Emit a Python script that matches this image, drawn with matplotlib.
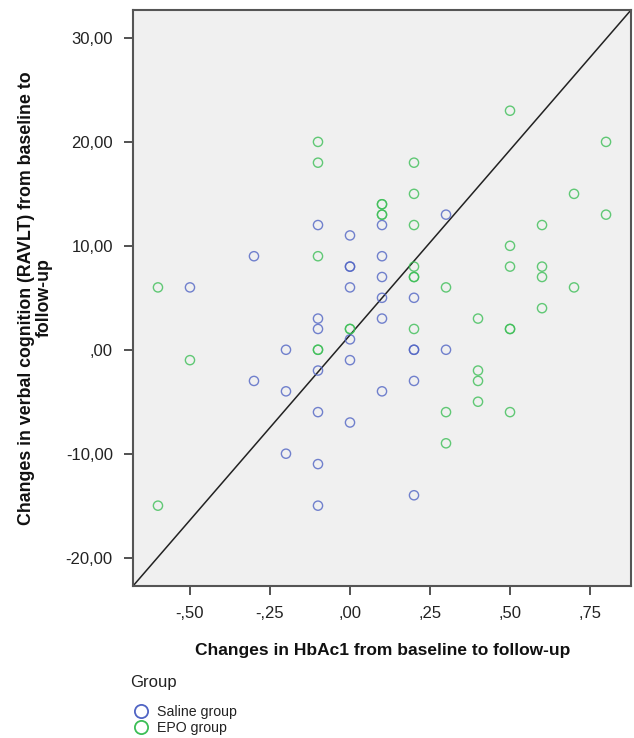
import matplotlib
matplotlib.use("Agg")
import matplotlib.pyplot as plt
from matplotlib.lines import Line2D

plt.rcParams['font.family'] = ['Liberation Sans', 'DejaVu Sans']

# Saline group: change in HbA1c (x) vs change in RAVLT (y)
saline_x = [-0.5, -0.3, -0.3, -0.2, -0.2, -0.2,
            -0.1, -0.1, -0.1, -0.1, -0.1, -0.1, -0.1,
            0.0, 0.0, 0.0, 0.0, 0.0, 0.0, 0.0,
            0.1, 0.1, 0.1, 0.1, 0.1, 0.1,
            0.2, 0.2, 0.2, 0.2, 0.2,
            0.3, 0.3]
saline_y = [6, 9, -3, 0, -4, -10,
            12, 3, 2, -2, -6, -11, -15,
            11, 8, 8, 6, 1, -1, -7,
            12, 9, 7, 5, 3, -4,
            5, 0, 0, -3, -14,
            13, 0]

# EPO group
epo_x = [-0.6, -0.6, -0.5,
         -0.1, -0.1, -0.1, -0.1, -0.1,
         0.0, 0.0,
         0.1, 0.1, 0.1, 0.1,
         0.2, 0.2, 0.2, 0.2, 0.2, 0.2, 0.2,
         0.3, 0.3, 0.3,
         0.4, 0.4, 0.4, 0.4,
         0.5, 0.5, 0.5, 0.5, 0.5, 0.5,
         0.6, 0.6, 0.6, 0.6,
         0.7, 0.7,
         0.8, 0.8]
epo_y = [6, -15, -1,
         20, 18, 9, 0, 0,
         2, 2,
         14, 14, 13, 13,
         18, 15, 12, 8, 7, 7, 2,
         6, -6, -9,
         3, -2, -3, -5,
         23, 10, 8, 2, 2, -6,
         12, 8, 7, 4,
         15, 6,
         20, 13]

x_ticks = [-0.5, -0.25, 0.0, 0.25, 0.5, 0.75]
y_ticks = [30, 20, 10, 0, -10, -20]

blue = '#5064c4'
green = '#3cbe56'


def spss_fmt(v):
    s = "%.2f" % v
    if s.startswith("0."):
        s = s[1:]
    elif s.startswith("-0."):
        s = "-" + s[2:]
    return s.replace(".", ",")


fig = plt.figure(figsize=(6.34, 7.38), dpi=100)
ax = fig.add_axes([133/634, 1-586/738, (631-133)/634, (586-10)/738])
ax.set_facecolor('#f0f0f0')

ax.scatter(saline_x, saline_y, s=44, facecolors='none', edgecolors=blue,
           linewidths=1.0, alpha=0.8, zorder=3)
ax.scatter(epo_x, epo_y, s=44, facecolors='none', edgecolors=green,
           linewidths=1.0, alpha=0.8, zorder=3)

# corner to corner reference line
ax.plot([0, 1], [0, 1], transform=ax.transAxes, color='#222222', lw=1.1, zorder=2)

ax.set_xlim(-0.678, 0.878)
ax.set_ylim(-22.73, 32.69)
ax.set_xticks(x_ticks)
ax.set_yticks(y_ticks)
ax.set_xticklabels([spss_fmt(v) for v in x_ticks])
ax.set_yticklabels([spss_fmt(v) for v in y_ticks])
ax.tick_params(direction='out', length=6.5, width=1.2, color='#333333',
               labelsize=12, pad=8, labelcolor='#222222')

for sp in ax.spines.values():
    sp.set_color('#555555')
    sp.set_linewidth(1.5)

fig.text(383/634, 1-650/738, "Changes in HbAc1 from baseline to follow-up",
         ha='center', va='center', fontsize=12.5, fontweight='bold', color='#111111')
fig.text(35/634, 1-298/738,
         "Changes in verbal cognition (RAVLT) from baseline to\nfollow-up",
         ha='center', va='center', rotation=90, multialignment='center',
         fontsize=12.8, fontweight='bold', color='#111111', linespacing=1.05)

# legend
fig.text(130/634, 1-683/738, "Group", ha='left', va='center', fontsize=12, color='#222222')
handles = [Line2D([], [], marker='o', linestyle='none', markersize=9.5,
                  markerfacecolor='none', markeredgecolor=blue, markeredgewidth=1.3),
           Line2D([], [], marker='o', linestyle='none', markersize=9.5,
                  markerfacecolor='none', markeredgecolor=green, markeredgewidth=1.3)]
leg = fig.legend(handles, ["Saline group", "EPO group"],
                 loc='upper left', bbox_to_anchor=(130/634, 1-705/738),
                 frameon=False, fontsize=10.2, handlelength=1.5, handletextpad=0.4,
                 labelspacing=0.15, borderaxespad=0, borderpad=0)
for t in leg.get_texts():
    t.set_color('#222222')

fig.savefig("out.png", dpi=100)
